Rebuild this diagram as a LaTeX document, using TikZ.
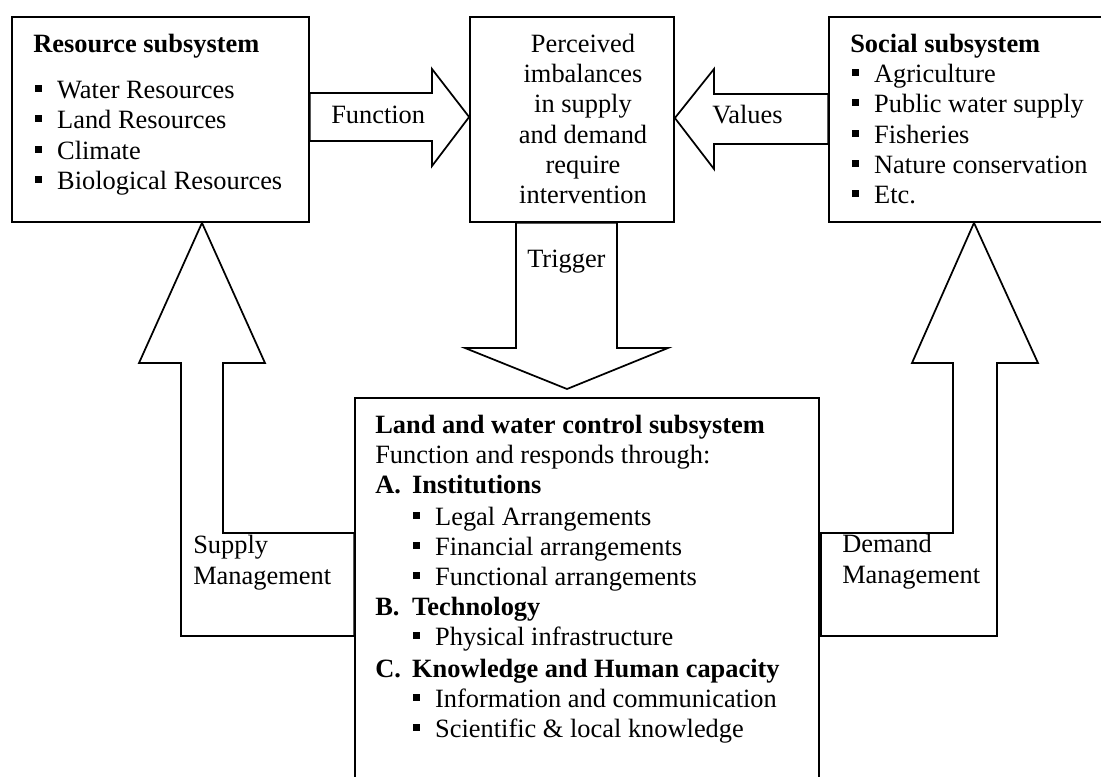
\documentclass[tikz,border=0pt]{standalone}
\usepackage{fontspec}
\setmainfont{Liberation Serif}
\usetikzlibrary{fit}
% small filled square used as list bullet
\newcommand{\sqbul}{\makebox[0.83em][l]{\rule[0.23em]{0.27em}{0.27em}}}
% bold enumeration label with fixed width
\newcommand{\enumlbl}[1]{\makebox[1.4em][l]{\textbf{#1}}}
\begin{document}
\begin{tikzpicture}[x=0.75pt,y=-0.75pt,
  box/.style={draw, line width=1.3pt, inner sep=0pt, rectangle},
  blockarrow/.style={draw, line width=1.3pt, line join=miter},
  txt/.style={inner sep=0pt, anchor=base west, font=\fontsize{19.8}{22.5}\selectfont},
  ctxt/.style={txt, anchor=base}]
\useasboundingbox (0,0) rectangle (1101,776);

% subsystem boxes
\node[box, fit={(12,17) (309,222)}] (res) {};
\node[box, fit={(470,17) (674,222)}] (mid) {};
\node[box, fit={(829,17) (1104,222)}] (soc) {};
\node[box, fit={(355,398) (819,800)}] (ctl) {};

% Function arrow: resource -> perceived imbalances
\draw[blockarrow] (res.east |- 0,93) -- (432,93) -- (432,69) -- (mid.west |- 0,117)
  -- (432,166) -- (432,141) -- (res.east |- 0,141) -- cycle;
% Values arrow: social -> perceived imbalances
\draw[blockarrow] (soc.west |- 0,94) -- (714,94) -- (714,69) -- (mid.east |- 0,118)
  -- (714,169) -- (714,144) -- (soc.west |- 0,144) -- cycle;
% Trigger arrow: perceived imbalances -> control subsystem
\draw[blockarrow] (516,0 |- mid.south) -- (516,348) -- (465,348) -- (567,389)
  -- (668,348) -- (617,348) -- (617,0 |- mid.south) -- cycle;
% Supply management arrow: control subsystem -> resource
\draw[blockarrow] (ctl.west |- 0,533) -- (223,533) -- (223,363) -- (265,363)
  -- (202,0 |- res.south) -- (139,363) -- (181,363) -- (181,636) -- (ctl.west |- 0,636) -- cycle;
% Demand management arrow: control subsystem -> social
\draw[blockarrow] (821,533) -- (953,533) -- (953,363) -- (912,363)
  -- (974,0 |- soc.south) -- (1038,363) -- (997,363) -- (997,636) -- (821,636) -- cycle;

% resource subsystem text
\node[txt] (rhead) at (33,52) {\textbf{Resource subsystem}};
\foreach \t/\yy [count=\i] in {Water Resources/98, Land Resources/128, Climate/159, Biological Resources/189}
  \node[txt] (r\i) at (35,\yy) {\sqbul\t};

% perceived imbalances text
\foreach \t/\yy [count=\i] in {Perceived/52, imbalances/82, in supply/112, and demand/143, require/173, intervention/203}
  \node[ctxt] (m\i) at (583,\yy) {\t};

% social subsystem text
\node[txt] (shead) at (850,52) {\textbf{Social subsystem}};
\foreach \t/\yy [count=\i] in {Agriculture/82, Public water supply/112, Fisheries/143, Nature conservation/173, Etc./203}
  \node[txt] (s\i) at (852,\yy) {\sqbul\t};

% arrow labels
\node[txt] (lfun) at (331,123) {Function};
\node[txt] (lval) at (712,123) {Values};
\node[txt] (ltrig) at (527,267) {Trigger};
\node[txt] (lsup1) at (193,553) {Supply};
\node[txt] (lsup2) at (193,584) {Management};
\node[txt] (ldem1) at (842,552) {Demand};
\node[txt] (ldem2) at (842,583) {Management};

% land and water control subsystem text
\node[txt] (chead) at (375,433) {\textbf{Land and water control subsystem}};
\node[txt] (csub) at (375,463) {Function and responds through:};
\node[txt] (ca) at (375,493) {\enumlbl{A.}\textbf{Institutions}};
\node[txt] (ca1) at (413,525) {\sqbul Legal Arrangements};
\node[txt] (ca2) at (413,555) {\sqbul Financial arrangements};
\node[txt] (ca3) at (413,585) {\sqbul Functional arrangements};
\node[txt] (cb) at (375,615) {\enumlbl{B.}\textbf{Technology}};
\node[txt] (cb1) at (413,645) {\sqbul Physical infrastructure};
\node[txt] (cc) at (375,677) {\enumlbl{C.}\textbf{Knowledge and Human capacity}};
\node[txt] (cc1) at (413,707) {\sqbul Information and communication};
\node[txt] (cc2) at (413,737) {\sqbul Scientific \& local knowledge};
\end{tikzpicture}
\end{document}
